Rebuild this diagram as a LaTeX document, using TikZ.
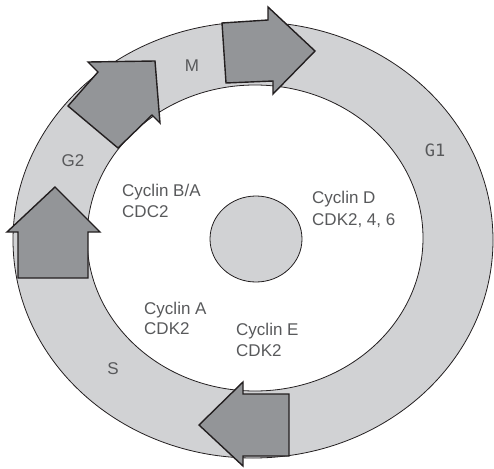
\documentclass[tikz,border=0pt]{standalone}
\usepackage{fontspec}
\setmainfont{Liberation Sans}
\newfontfamily\monofnt{DejaVu Sans Mono}
\definecolor{ringgray}{HTML}{D1D2D4}
\definecolor{arrowgray}{HTML}{939598}
\definecolor{txtgray}{HTML}{58595B}
\definecolor{lineblk}{HTML}{231F20}
\tikzset{
  ringline/.style={draw=lineblk, line width=0.8pt},
  bigarrow/.style={fill=arrowgray, draw=lineblk, line width=1.4pt, line join=miter},
  lbl/.style={text=txtgray, font=\fontsize{17}{20}\selectfont, inner sep=0pt},
  phase/.style={lbl, anchor=center},
  txt/.style={lbl, anchor=base west}
}
\begin{document}
\begin{tikzpicture}[x=1pt,y=-1pt]
\useasboundingbox (0,0) rectangle (494,468);
% ring
\fill[ringgray, even odd rule] (253,240) ellipse [x radius=240pt, y radius=218pt]
      (255,238) ellipse [x radius=168pt, y radius=153pt];
\draw[ringline] (253,240) ellipse [x radius=240pt, y radius=218pt];
\draw[ringline] (255,238) ellipse [x radius=168pt, y radius=153pt];
% nucleus
\draw[ringline, fill=ringgray] (256,239) ellipse [x radius=46pt, y radius=43pt];
% arrows
\draw[bigarrow] (222,23) -- (268,20) -- (268,7) -- (315,51) -- (273,94) -- (273,81) -- (226,83) -- cycle;
\draw[bigarrow] (68,106) -- (98,72) -- (88,62) -- (155,61) -- (160,123) -- (152,115) -- (118,148) -- cycle;
\draw[bigarrow] (18,278) -- (18,232) -- (7,232) -- (55,187) -- (100,232) -- (88,232) -- (88,278) -- cycle;
\draw[bigarrow] (289,394) -- (243,394) -- (243,382) -- (199,425) -- (243,466) -- (243,456) -- (289,456) -- cycle;
% phase labels
\node[phase] (m) at (192,66) {M};
\node[phase] (g2) at (73,161) {G2};
\node[phase, font=\monofnt\fontsize{17}{20}\selectfont] (g1) at (435,150) {G1};
\node[phase] (s) at (113,369) {S};
% cyclin labels
\node[txt] (ba1) at (122,196) {Cyclin B/A};
\node[txt] (ba2) at (122,217) {CDC2};
\node[txt] (d1) at (312,203) {Cyclin D};
\node[txt] (d2) at (312,225) {CDK2, 4, 6};
\node[txt] (a1) at (144,314) {Cyclin A};
\node[txt] (a2) at (144,334) {CDK2};
\node[txt] (e1) at (236,335) {Cyclin E};
\node[txt] (e2) at (236,356) {CDK2};
\end{tikzpicture}
\end{document}
